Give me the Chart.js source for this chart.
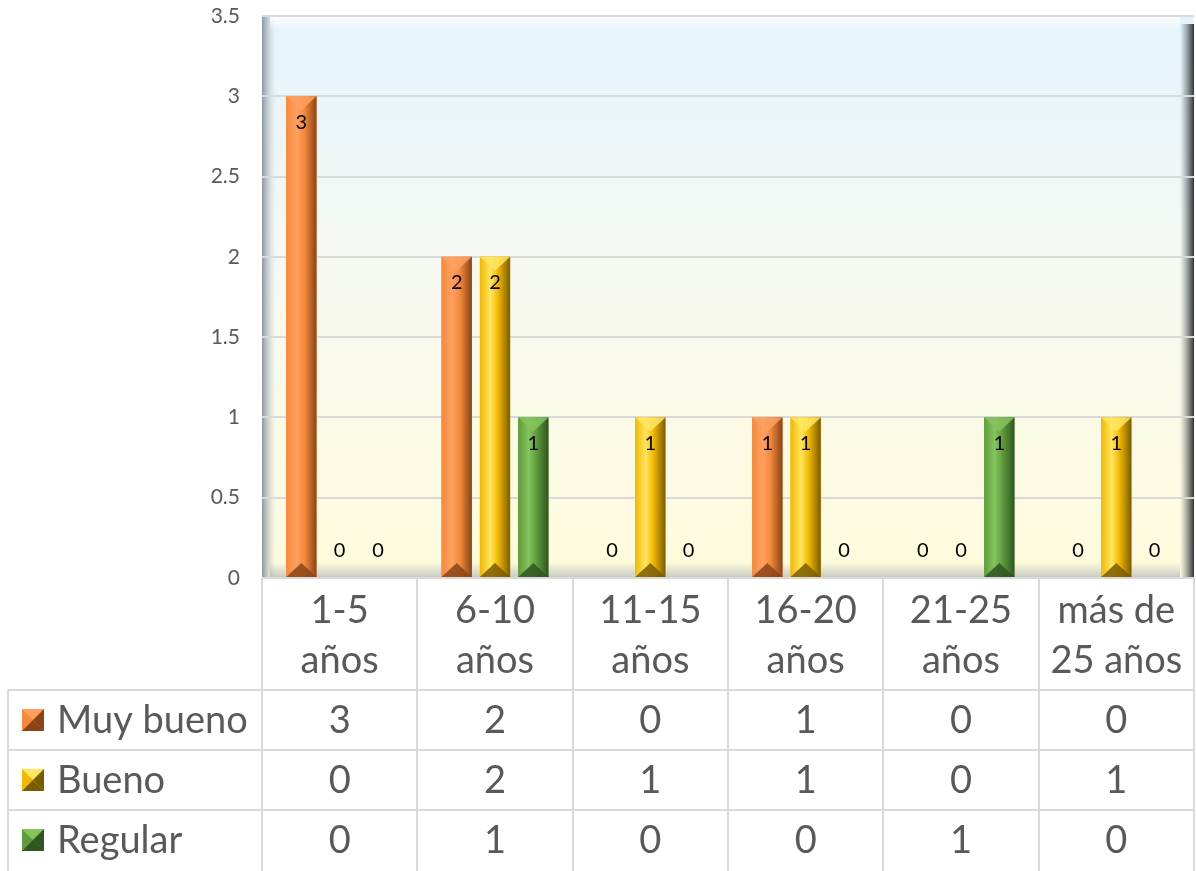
<!DOCTYPE html>
<html>
<head>
<meta charset="utf-8">
<script src="https://cdn.jsdelivr.net/npm/chart.js@4.4.1/dist/chart.umd.min.js"></script>
<style>
  body { margin: 0; background: #fff; }
  #wrap { width: 1196px; height: 871px; position: relative; }
</style>
</head>
<body>
<div id="wrap"><canvas id="chart"></canvas></div>
<script>
// datos
const categories = [['1-5', 'años'], ['6-10', 'años'], ['11-15', 'años'], ['16-20', 'años'], ['21-25', 'años'], ['más de', '25 años']]
const seriesNames = ['Muy bueno', 'Bueno', 'Regular']
const muyBueno = [3, 2, 0, 1, 0, 0]
const bueno = [0, 2, 1, 1, 0, 1]
const regular = [0, 1, 0, 0, 1, 0]
const yMin = 0
const yMax = 3.5
const yStep = 0.5

const FONT = 'Lato, "Open Sans", sans-serif'
const GRAY = '#595959'
const LINE = '#d9d9d9'

// colores tipo bisel: base, claro, oscuro
const palettes = [
    { base: '#ed7d31', light: '#ffa060', mid: '#f48a3c', dark: '#8a4416' },
    { base: '#ffc000', light: '#ffe660', mid: '#f2b800', dark: '#7a5c00' },
    { base: '#5e9e3e', light: '#86c45c', mid: '#5f9c3e', dark: '#2f5520' }
]

const seriesData = [muyBueno, bueno, regular]

const bevelBars = {
    id: 'bevelBars',
    afterDatasetsDraw(chart) {
        const ctx = chart.ctx
        chart.data.datasets.forEach((ds, di) => {
            const p = palettes[di]
            chart.getDatasetMeta(di).data.forEach((bar, i) => {
                const v = ds.data[i]
                const x0 = bar.x - bar.width / 2
                const x1 = bar.x + bar.width / 2
                const top = bar.y
                const bottom = bar.base
                ctx.save()
                if (v > 0) {
                    const g = ctx.createLinearGradient(x0, 0, x1, 0)
                    g.addColorStop(0, p.mid)
                    g.addColorStop(0.35, p.light)
                    g.addColorStop(0.6, p.mid)
                    g.addColorStop(1, p.dark)
                    ctx.fillStyle = g
                    ctx.fillRect(x0, top, x1 - x0, bottom - top)
                    const d = Math.min(bar.width / 2, 14)
                    ctx.fillStyle = p.light
                    ctx.globalAlpha = 0.85
                    ctx.beginPath()
                    ctx.moveTo(x0, top); ctx.lineTo(x1, top); ctx.lineTo(bar.x, top + d); ctx.closePath()
                    ctx.fill()
                    ctx.fillStyle = p.dark
                    ctx.beginPath()
                    ctx.moveTo(x0, bottom); ctx.lineTo(x1, bottom); ctx.lineTo(bar.x, bottom - d); ctx.closePath()
                    ctx.fill()
                    ctx.globalAlpha = 1
                }
                // etiqueta de valor
                ctx.fillStyle = '#000'
                ctx.font = '20px ' + FONT
                ctx.textAlign = 'center'
                ctx.textBaseline = 'middle'
                const ly = v > 0 ? top + 26 : bottom - 27
                ctx.fillText(String(v), bar.x, ly)
                ctx.restore()
            })
        })
    }
}

const plotBackground = {
    id: 'plotBackground',
    beforeDraw(chart) {
        const { ctx, chartArea: a } = chart
        ctx.save()
        ctx.fillStyle = '#fff'
        ctx.fillRect(0, 0, chart.width, chart.height)
        const g = ctx.createLinearGradient(0, a.top, 0, a.bottom)
        g.addColorStop(0, '#e4f3fc')
        g.addColorStop(0.45, '#f6f9f2')
        g.addColorStop(1, '#fffbdc')
        ctx.fillStyle = g
        ctx.fillRect(a.left, a.top, a.right - a.left, a.bottom - a.top)
        // bisel del area
        let e = ctx.createLinearGradient(a.left, 0, a.left + 14, 0)
        e.addColorStop(0, 'rgba(130,140,150,0.9)')
        e.addColorStop(1, 'rgba(200,210,220,0)')
        ctx.fillStyle = e
        ctx.fillRect(a.left, a.top, 14, a.bottom - a.top)
        e = ctx.createLinearGradient(0, a.top, 0, a.top + 14)
        e.addColorStop(0, 'rgba(255,255,255,1)')
        e.addColorStop(1, 'rgba(255,255,255,0)')
        ctx.fillStyle = e
        ctx.fillRect(a.left + 8, a.top, a.right - a.left - 22, 14)
        e = ctx.createLinearGradient(a.right - 14, 0, a.right, 0)
        e.addColorStop(0, 'rgba(90,100,110,0)')
        e.addColorStop(1, 'rgba(40,40,40,0.95)')
        ctx.fillStyle = e
        ctx.fillRect(a.right - 14, a.top + 8, 14, a.bottom - a.top - 8)
        e = ctx.createLinearGradient(0, a.bottom - 16, 0, a.bottom)
        e.addColorStop(0, 'rgba(150,160,170,0)')
        e.addColorStop(1, 'rgba(150,160,170,0.55)')
        ctx.fillStyle = e
        ctx.fillRect(a.left + 8, a.bottom - 16, a.right - a.left - 22, 16)
        ctx.restore()
    }
}

const dataTable = {
    id: 'dataTable',
    afterDraw(chart) {
        const { ctx, chartArea: a } = chart
        const xs = chart.scales.x
        const n = categories.length
        const step = (a.right - a.left) / n
        const headerBottom = a.bottom + 112
        const rowH = 60
        const tableLeft = 8
        const bottom = chart.height
        ctx.save()
        ctx.strokeStyle = LINE
        ctx.lineWidth = 2
        for (let i = 0; i <= n; i++) {
            const x = Math.round(xs.getPixelForTick(Math.min(i, n - 1)) + (i === n ? step / 2 : -step / 2))
            ctx.beginPath(); ctx.moveTo(x, a.bottom); ctx.lineTo(x, bottom); ctx.stroke()
        }
        ctx.beginPath(); ctx.moveTo(tableLeft, headerBottom); ctx.lineTo(tableLeft, bottom); ctx.stroke()
        for (let r = 0; r < seriesNames.length; r++) {
            const y = headerBottom + r * rowH
            ctx.beginPath(); ctx.moveTo(tableLeft, y); ctx.lineTo(a.right, y); ctx.stroke()
        }
        ctx.font = '38px ' + FONT
        ctx.textBaseline = 'middle'
        seriesNames.forEach((name, r) => {
            const cy = headerBottom + r * rowH + rowH / 2
            const p = palettes[r]
            // marca de leyenda con bisel
            const kx = 22, ky = cy - 11, k = 22
            ctx.fillStyle = p.mid
            ctx.fillRect(kx, ky, k, k)
            ctx.fillStyle = p.light
            ctx.beginPath(); ctx.moveTo(kx, ky); ctx.lineTo(kx + k, ky); ctx.lineTo(kx + k / 2, ky + k / 2); ctx.closePath(); ctx.fill()
            ctx.fillStyle = p.dark
            ctx.beginPath(); ctx.moveTo(kx, ky + k); ctx.lineTo(kx + k, ky + k); ctx.lineTo(kx + k / 2, ky + k / 2); ctx.closePath(); ctx.fill()
            ctx.beginPath(); ctx.moveTo(kx + k, ky); ctx.lineTo(kx + k, ky + k); ctx.lineTo(kx + k / 2, ky + k / 2); ctx.closePath(); ctx.fill()
            ctx.fillStyle = GRAY
            ctx.textAlign = 'left'
            ctx.fillText(name, 57, cy + 1)
            ctx.textAlign = 'center'
            seriesData[r].forEach((v, i) => {
                ctx.fillText(String(v), xs.getPixelForTick(i), cy + 1)
            })
        })
        ctx.restore()
    }
}

new Chart(document.getElementById('chart'), {
    type: 'bar',
    data: {
        labels: categories,
        datasets: seriesNames.map((name, i) => ({
            label: name,
            data: seriesData[i],
            backgroundColor: palettes[i].base,
            borderWidth: 0,
            barPercentage: 0.79,
            categoryPercentage: 0.74
        }))
    },
    options: {
        responsive: true,
        maintainAspectRatio: false,
        animation: false,
        layout: { padding: { top: 16, right: 2, left: 0, bottom: 0 } },
        plugins: { legend: { display: false }, tooltip: { enabled: false } },
        scales: {
            x: {
                grid: { display: false, drawTicks: false },
                border: { display: false },
                ticks: {
                    color: GRAY,
                    font: { family: FONT, size: 38, lineHeight: 1.316 },
                    padding: 8,
                    maxRotation: 0,
                    autoSkip: false
                },
                afterFit: (scale) => { scale.height = 293 }
            },
            y: {
                min: yMin,
                max: yMax,
                ticks: {
                    stepSize: yStep,
                    color: GRAY,
                    font: { family: FONT, size: 21 },
                    padding: 22,
                    callback: (v) => String(v)
                },
                grid: { color: LINE, lineWidth: 2, drawTicks: false },
                border: { display: false },
                afterFit: (scale) => {
                    scale.width = 262
                    scale.paddingTop = 0
                    scale.paddingBottom = 0
                }
            }
        }
    },
    plugins: [plotBackground, bevelBars, dataTable]
})
</script>
</body>
</html>
